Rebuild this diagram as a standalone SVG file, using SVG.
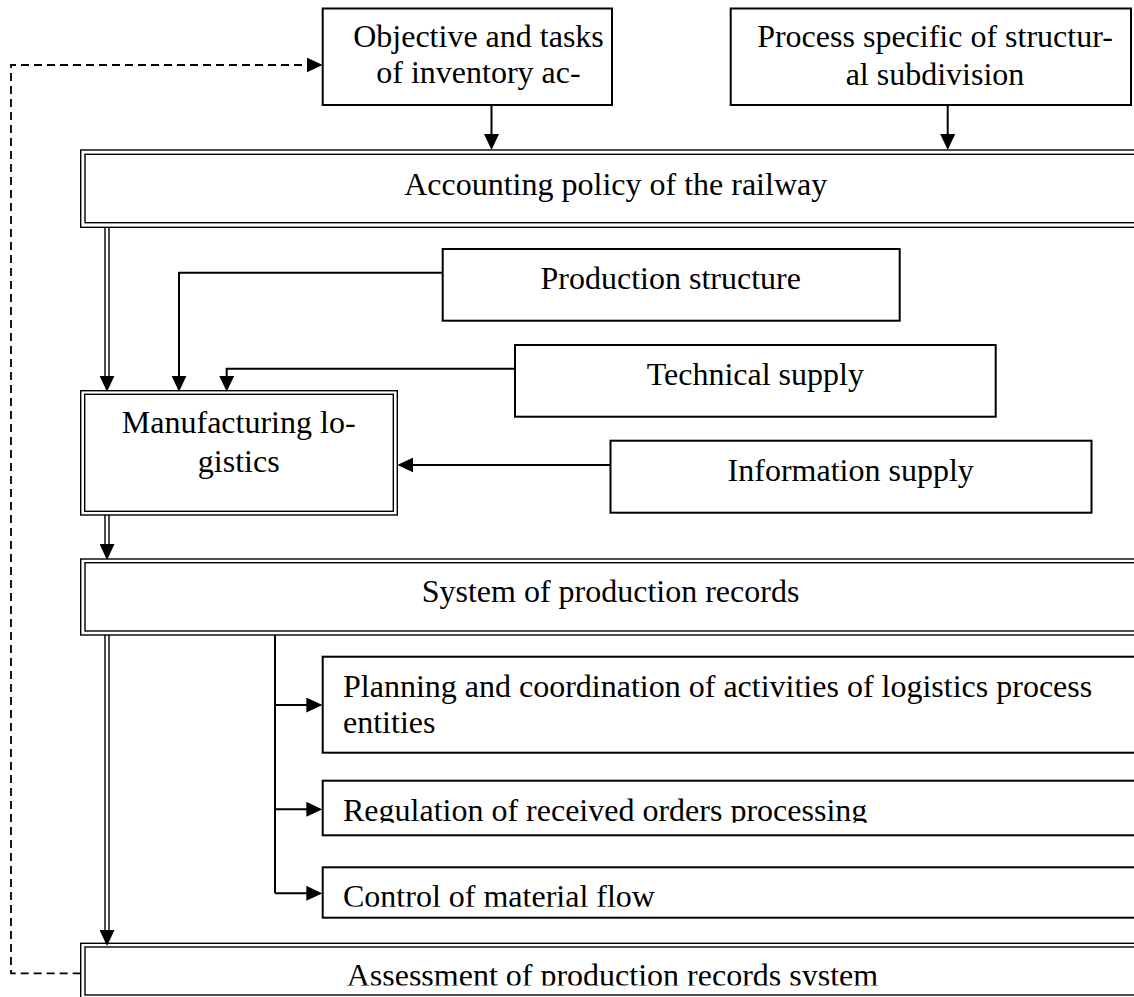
<svg xmlns="http://www.w3.org/2000/svg" width="1134" height="997" viewBox="0 0 1134 997">
  <style>
    .box { fill: #fff; stroke: #000; stroke-width: 2; }
    .dbl { fill: none; stroke: #000; stroke-width: 1.4; }
    .dblbg { fill: #fff; stroke: none; }
    .con { fill: none; stroke: #000; stroke-width: 2; }
    .dline { fill: none; stroke: #000; stroke-width: 1.4; }
    .dash { fill: none; stroke: #000; stroke-width: 1.8; stroke-dasharray: 8 5; }
    .hid { fill: none; stroke: none; }
    text { font-family: "Liberation Serif", "Times New Roman", serif; font-size: 32px; fill: #000; }
    .mid { text-anchor: middle; }
  </style>
  <defs>
    <marker id="ah" markerUnits="userSpaceOnUse" markerWidth="16" markerHeight="15" refX="12" refY="7.5" orient="auto" viewBox="0 0 16 15">
      <path d="M0,0 L16,7.5 L0,15 Z" fill="#000"/>
    </marker>
    <clipPath id="clipReg"><rect x="0" y="0" width="1134" height="822.7"/></clipPath>
    <clipPath id="clipCtl"><rect x="0" y="0" width="1134" height="906.7"/></clipPath>
    <clipPath id="clipAss"><rect x="0" y="0" width="1134" height="985.5"/></clipPath>
  </defs>
  <rect x="0" y="0" width="1134" height="997" fill="#fff"/>

  <g id="objective">
    <rect class="box" x="322.7" y="8.5" width="289.3" height="96.5"/>
    <text class="mid" x="478.5" y="46.7">Objective and tasks</text>
    <text class="mid" x="478.5" y="83.3">of inventory ac-</text>
  </g>

  <g id="process">
    <rect class="box" x="730.7" y="8.5" width="400.3" height="96.5"/>
    <text class="mid" x="935" y="46.7">Process specific of structur-</text>
    <text class="mid" x="935" y="85">al subdivision</text>
  </g>

  <g id="accounting">
    <rect class="dblbg" x="80.7" y="150" width="1100" height="77.3"/>
    <rect class="dbl" x="80.7" y="150" width="1100" height="77.3"/>
    <rect class="dbl" x="85" y="154.3" width="1100" height="68.4"/>
    <text class="mid" x="615.7" y="195">Accounting policy of the railway</text>
  </g>

  <g id="production">
    <rect class="box" x="442.7" y="249" width="457" height="71.7"/>
    <text class="mid" x="670.7" y="289.3">Production structure</text>
  </g>

  <g id="technical">
    <rect class="box" x="515" y="345" width="480.7" height="71.7"/>
    <text class="mid" x="755.3" y="385">Technical supply</text>
  </g>

  <g id="manufacturing">
    <rect class="dblbg" x="80.7" y="390.7" width="316.6" height="124.3"/>
    <rect class="dbl" x="80.7" y="390.7" width="316.6" height="124.3"/>
    <rect class="dbl" x="84.7" y="394.3" width="308.6" height="117"/>
    <text class="mid" x="238.7" y="433.3">Manufacturing lo-</text>
    <text class="mid" x="238.7" y="471.7">gistics</text>
  </g>

  <g id="information">
    <rect class="box" x="610.5" y="440.7" width="481" height="72"/>
    <text class="mid" x="850.7" y="480.7">Information supply</text>
  </g>

  <g id="system">
    <rect class="dblbg" x="80.7" y="559" width="1100" height="76"/>
    <rect class="dbl" x="80.7" y="559" width="1100" height="76"/>
    <rect class="dbl" x="85" y="562.7" width="1100" height="68.3"/>
    <text class="mid" x="610.5" y="601.7">System of production records</text>
  </g>

  <g id="planning">
    <rect class="box" x="322.7" y="656.7" width="830" height="96"/>
    <text x="343" y="696.7">Planning and coordination of activities of logistics process</text>
    <text x="343" y="733.3">entities</text>
  </g>

  <g id="regulation">
    <rect class="box" x="322.7" y="780.7" width="830" height="54.6"/>
    <text x="343" y="820.5" clip-path="url(#clipReg)">Regulation of received orders processing</text>
  </g>

  <g id="control">
    <rect class="box" x="322.7" y="867.3" width="830" height="50.4"/>
    <text x="343" y="906.7" clip-path="url(#clipCtl)">Control of material flow</text>
  </g>

  <g id="assessment">
    <rect class="dblbg" x="80.7" y="943.3" width="1100" height="60"/>
    <rect class="dbl" x="80.7" y="943.3" width="1100" height="60"/>
    <rect class="dbl" x="85" y="947" width="1100" height="48"/>
    <text x="346.7" y="985.5" clip-path="url(#clipAss)">Assessment of production records system</text>
  </g>

  <g id="connectors">
    <!-- feedback dashed loop -->
    <path class="dash" d="M80.7,973.3 H11 V65 H318.7" marker-end="url(#ah)"/>
    <!-- objective to accounting -->
    <path class="con" d="M491.5,105 V146" marker-end="url(#ah)"/>
    <!-- process to accounting -->
    <path class="con" d="M947.7,105 V146" marker-end="url(#ah)"/>
    <!-- accounting to manufacturing (double) -->
    <path class="dline" d="M105,227.3 V380 M109,227.3 V380"/>
    <path class="hid" d="M107,227.3 V387.7" marker-end="url(#ah)"/>
    <!-- production structure to manufacturing -->
    <path class="con" d="M442.7,272.7 H179 V387.7" marker-end="url(#ah)"/>
    <!-- technical supply to manufacturing -->
    <path class="con" d="M515,368.7 H226.7 V387.7" marker-end="url(#ah)"/>
    <!-- information supply to manufacturing -->
    <path class="con" d="M610.5,465 H401.3" marker-end="url(#ah)"/>
    <!-- manufacturing to system (double) -->
    <path class="dline" d="M105,515 V548 M109,515 V548"/>
    <path class="hid" d="M107,515 V556" marker-end="url(#ah)"/>
    <!-- system to assessment (double) -->
    <path class="dline" d="M105,635 V934 M109,635 V934"/>
    <path class="hid" d="M107,635 V942" marker-end="url(#ah)"/>
    <!-- system branch -->
    <path class="con" d="M275,635 V893.3"/>
    <path class="con" d="M275,705 H318.3" marker-end="url(#ah)"/>
    <path class="con" d="M275,809.3 H318.3" marker-end="url(#ah)"/>
    <path class="con" d="M275,893.3 H318.3" marker-end="url(#ah)"/>
  </g>
</svg>
